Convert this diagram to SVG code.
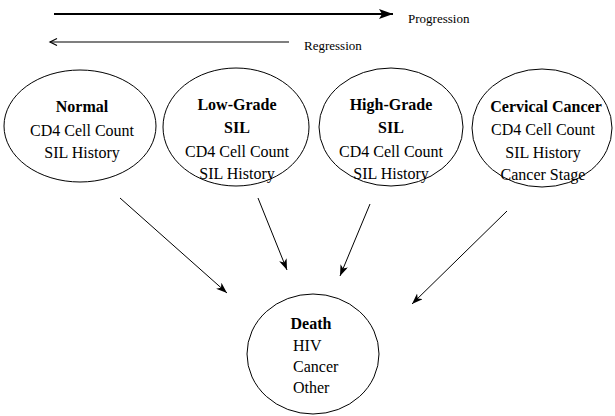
<svg xmlns="http://www.w3.org/2000/svg" width="615" height="416" viewBox="0 0 615 416">
<defs>
<marker id="big" markerUnits="userSpaceOnUse" markerWidth="16" markerHeight="12" refX="14" refY="5" orient="auto">
<path d="M0,0 L14,5 L0,10 L3,5 Z" fill="#000"/>
</marker>
<marker id="open" markerUnits="userSpaceOnUse" markerWidth="12" markerHeight="10" refX="9" refY="4" orient="auto">
<path d="M2,0.5 L9,4 L2,7.5" fill="none" stroke="#000" stroke-width="1.2"/>
</marker>
<marker id="ah" markerUnits="userSpaceOnUse" markerWidth="14" markerHeight="10" refX="11" refY="4" orient="auto">
<path d="M0,0 L11,4 L0,8 L3,4 Z" fill="#000"/>
</marker>
</defs>
<rect width="615" height="416" fill="#fff"/>
<line x1="54" y1="14" x2="393" y2="14" stroke="#000" stroke-width="2" marker-end="url(#big)"/>
<text x="408" y="23" font-family="Liberation Serif" font-size="13">Progression</text>
<line x1="289" y1="42" x2="50" y2="42" stroke="#000" stroke-width="1.2" marker-end="url(#open)"/>
<text x="304" y="50" font-family="Liberation Serif" font-size="13">Regression</text>
<g id="normal">
<ellipse cx="80" cy="126" rx="76" ry="56" fill="#fff" stroke="#000"/>
<text x="82" y="112" font-family="Liberation Serif" font-size="16" text-anchor="middle" font-weight="bold">Normal</text>
<text x="82" y="136" font-family="Liberation Serif" font-size="16" text-anchor="middle">CD4 Cell Count</text>
<text x="82" y="158" font-family="Liberation Serif" font-size="16" text-anchor="middle">SIL History</text>
</g>
<g id="lowgrade">
<ellipse cx="236" cy="127" rx="73" ry="59" fill="#fff" stroke="#000"/>
<text x="237" y="110" font-family="Liberation Serif" font-size="16" text-anchor="middle" font-weight="bold">Low-Grade</text>
<text x="237" y="133" font-family="Liberation Serif" font-size="16" text-anchor="middle" font-weight="bold">SIL</text>
<text x="237" y="157" font-family="Liberation Serif" font-size="16" text-anchor="middle">CD4 Cell Count</text>
<text x="237" y="179" font-family="Liberation Serif" font-size="16" text-anchor="middle">SIL History</text>
</g>
<g id="highgrade">
<ellipse cx="391" cy="127" rx="72" ry="59" fill="#fff" stroke="#000"/>
<text x="391" y="110" font-family="Liberation Serif" font-size="16" text-anchor="middle" font-weight="bold">High-Grade</text>
<text x="391" y="133" font-family="Liberation Serif" font-size="16" text-anchor="middle" font-weight="bold">SIL</text>
<text x="391" y="157" font-family="Liberation Serif" font-size="16" text-anchor="middle">CD4 Cell Count</text>
<text x="391" y="179" font-family="Liberation Serif" font-size="16" text-anchor="middle">SIL History</text>
</g>
<g id="cervical">
<ellipse cx="542" cy="128" rx="70" ry="59" fill="#fff" stroke="#000"/>
<text x="546" y="112" font-family="Liberation Serif" font-size="16" text-anchor="middle" font-weight="bold">Cervical Cancer</text>
<text x="543" y="135" font-family="Liberation Serif" font-size="16" text-anchor="middle">CD4 Cell Count</text>
<text x="543" y="158" font-family="Liberation Serif" font-size="16" text-anchor="middle">SIL History</text>
<text x="543" y="180" font-family="Liberation Serif" font-size="16" text-anchor="middle">Cancer Stage</text>
</g>
<g id="death">
<ellipse cx="313" cy="354" rx="66" ry="60" fill="#fff" stroke="#000"/>
<text x="311" y="329" font-family="Liberation Serif" font-size="16" text-anchor="middle" font-weight="bold">Death</text>
<text x="293" y="351" font-family="Liberation Serif" font-size="16">HIV</text>
<text x="293" y="372" font-family="Liberation Serif" font-size="16">Cancer</text>
<text x="293" y="393" font-family="Liberation Serif" font-size="16">Other</text>
</g>
<g id="connectors" stroke="#000" stroke-width="1">
<line x1="120" y1="198" x2="227" y2="293" marker-end="url(#ah)"/>
<line x1="258" y1="198" x2="287" y2="270" marker-end="url(#ah)"/>
<line x1="370" y1="204" x2="340" y2="276" marker-end="url(#ah)"/>
<line x1="507" y1="211" x2="412" y2="304" marker-end="url(#ah)"/>
</g>
</svg>
